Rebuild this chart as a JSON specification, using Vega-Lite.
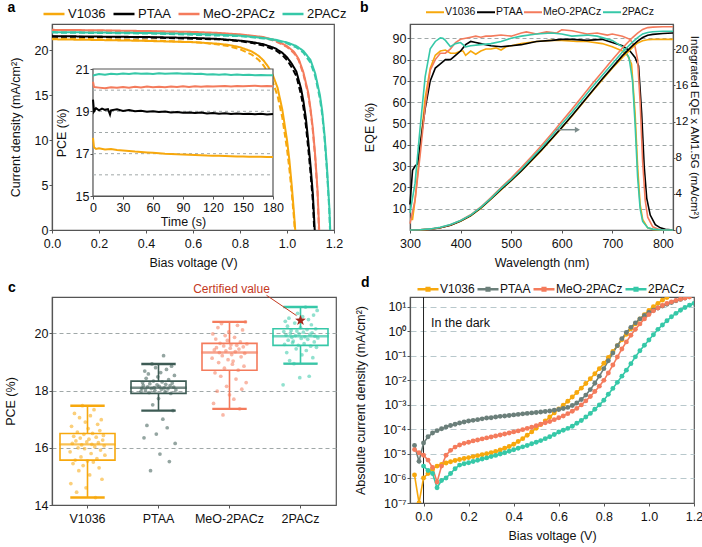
{
"$schema": "https://vega.github.io/schema/vega-lite/v6.json",
"padding": {"left": 3, "top": 0, "right": 0, "bottom": 0},
"columns": 2,
"spacing": {"row": 67, "column": 74},
"bounds": "flush",
"resolve": {"scale": {"color": "independent", "stroke": "independent"}, "legend": {"color": "independent"}},
"config": {
  "font": "Liberation Sans",
  "view": {"stroke": "#555", "strokeWidth": 1.2},
  "axis": {"labelFont": "Liberation Sans", "titleFont": "Liberation Sans", "labelFontSize": 12.5, "titleFontSize": 12.5, "labelColor": "#111", "titleColor": "#111", "titleFontWeight": "normal", "domainColor": "#555", "domainWidth": 1.2, "tickColor": "#555", "tickSize": 3, "grid": false, "gridColor": "#a0a8a8", "gridDash": [4, 3], "labelOverlap": false, "labelFlush": false},
  "axisX": {"labelPadding": 4, "titlePadding": 7},
  "axisY": {"labelPadding": 1},
  "legend": {"labelFont": "Liberation Sans", "labelColor": "#111"},
  "title": {"font": "Liberation Sans", "fontSize": 14, "fontWeight": "bold", "anchor": "start", "color": "#000", "frame": "group"}
},
"datasets": {
"jv": [
{"s":"V1036","k":"rev","v":0,"j":21.2},{"s":"V1036","k":"rev","v":0.2,"j":21.12},{"s":"V1036","k":"rev","v":0.4,"j":21.02},{"s":"V1036","k":"rev","v":0.6,"j":20.88},{"s":"V1036","k":"rev","v":0.7,"j":20.72},{"s":"V1036","k":"rev","v":0.75,"j":20.58},{"s":"V1036","k":"rev","v":0.8,"j":20.32},{"s":"V1036","k":"rev","v":0.85,"j":19.85},{"s":"V1036","k":"rev","v":0.88,"j":19.35},{"s":"V1036","k":"rev","v":0.9,"j":18.85},{"s":"V1036","k":"rev","v":0.92,"j":18.15},{"s":"V1036","k":"rev","v":0.94,"j":17.2},{"s":"V1036","k":"rev","v":0.96,"j":15.8},{"s":"V1036","k":"rev","v":0.98,"j":13.4},{"s":"V1036","k":"rev","v":1.0,"j":10.0},{"s":"V1036","k":"rev","v":1.01,"j":7.8},{"s":"V1036","k":"rev","v":1.02,"j":5.0},{"s":"V1036","k":"rev","v":1.03,"j":1.8},{"s":"V1036","k":"rev","v":1.035,"j":0},
{"s":"V1036","k":"fwd","v":0,"j":21.3},{"s":"V1036","k":"fwd","v":0.2,"j":21.2},{"s":"V1036","k":"fwd","v":0.4,"j":21.08},{"s":"V1036","k":"fwd","v":0.6,"j":20.9},{"s":"V1036","k":"fwd","v":0.7,"j":20.65},{"s":"V1036","k":"fwd","v":0.75,"j":20.45},{"s":"V1036","k":"fwd","v":0.8,"j":20.1},{"s":"V1036","k":"fwd","v":0.85,"j":19.5},{"s":"V1036","k":"fwd","v":0.88,"j":18.9},{"s":"V1036","k":"fwd","v":0.9,"j":18.3},{"s":"V1036","k":"fwd","v":0.92,"j":17.5},{"s":"V1036","k":"fwd","v":0.94,"j":16.4},{"s":"V1036","k":"fwd","v":0.96,"j":14.9},{"s":"V1036","k":"fwd","v":0.98,"j":12.5},{"s":"V1036","k":"fwd","v":1.0,"j":9.0},{"s":"V1036","k":"fwd","v":1.01,"j":6.8},{"s":"V1036","k":"fwd","v":1.02,"j":4.2},{"s":"V1036","k":"fwd","v":1.03,"j":1.2},{"s":"V1036","k":"fwd","v":1.033,"j":0},
{"s":"PTAA","k":"rev","v":0,"j":21.55},{"s":"PTAA","k":"rev","v":0.2,"j":21.5},{"s":"PTAA","k":"rev","v":0.4,"j":21.45},{"s":"PTAA","k":"rev","v":0.6,"j":21.35},{"s":"PTAA","k":"rev","v":0.7,"j":21.25},{"s":"PTAA","k":"rev","v":0.8,"j":21.05},{"s":"PTAA","k":"rev","v":0.85,"j":20.9},{"s":"PTAA","k":"rev","v":0.9,"j":20.65},{"s":"PTAA","k":"rev","v":0.95,"j":20.2},{"s":"PTAA","k":"rev","v":0.98,"j":19.7},{"s":"PTAA","k":"rev","v":1.0,"j":19.2},{"s":"PTAA","k":"rev","v":1.02,"j":18.5},{"s":"PTAA","k":"rev","v":1.04,"j":17.6},{"s":"PTAA","k":"rev","v":1.06,"j":15.7},{"s":"PTAA","k":"rev","v":1.07,"j":14.3},{"s":"PTAA","k":"rev","v":1.08,"j":12.5},{"s":"PTAA","k":"rev","v":1.09,"j":10.0},{"s":"PTAA","k":"rev","v":1.1,"j":7.2},{"s":"PTAA","k":"rev","v":1.11,"j":4.0},{"s":"PTAA","k":"rev","v":1.118,"j":0},
{"s":"PTAA","k":"fwd","v":0,"j":21.5},{"s":"PTAA","k":"fwd","v":0.4,"j":21.4},{"s":"PTAA","k":"fwd","v":0.7,"j":21.2},{"s":"PTAA","k":"fwd","v":0.8,"j":21.0},{"s":"PTAA","k":"fwd","v":0.85,"j":20.8},{"s":"PTAA","k":"fwd","v":0.9,"j":20.5},{"s":"PTAA","k":"fwd","v":0.95,"j":20.0},{"s":"PTAA","k":"fwd","v":0.98,"j":19.45},{"s":"PTAA","k":"fwd","v":1.0,"j":18.9},{"s":"PTAA","k":"fwd","v":1.02,"j":18.1},{"s":"PTAA","k":"fwd","v":1.04,"j":17.1},{"s":"PTAA","k":"fwd","v":1.06,"j":15.0},{"s":"PTAA","k":"fwd","v":1.07,"j":13.6},{"s":"PTAA","k":"fwd","v":1.08,"j":11.7},{"s":"PTAA","k":"fwd","v":1.09,"j":9.2},{"s":"PTAA","k":"fwd","v":1.1,"j":6.4},{"s":"PTAA","k":"fwd","v":1.11,"j":3.2},{"s":"PTAA","k":"fwd","v":1.116,"j":0},
{"s":"MeO-2PACz","k":"rev","v":0,"j":22.25},{"s":"MeO-2PACz","k":"rev","v":0.2,"j":22.2},{"s":"MeO-2PACz","k":"rev","v":0.4,"j":22.12},{"s":"MeO-2PACz","k":"rev","v":0.6,"j":22.02},{"s":"MeO-2PACz","k":"rev","v":0.7,"j":21.92},{"s":"MeO-2PACz","k":"rev","v":0.8,"j":21.75},{"s":"MeO-2PACz","k":"rev","v":0.9,"j":21.45},{"s":"MeO-2PACz","k":"rev","v":0.95,"j":21.1},{"s":"MeO-2PACz","k":"rev","v":1.0,"j":20.45},{"s":"MeO-2PACz","k":"rev","v":1.03,"j":19.8},{"s":"MeO-2PACz","k":"rev","v":1.05,"j":19.0},{"s":"MeO-2PACz","k":"rev","v":1.07,"j":17.5},{"s":"MeO-2PACz","k":"rev","v":1.09,"j":15.3},{"s":"MeO-2PACz","k":"rev","v":1.1,"j":13.5},{"s":"MeO-2PACz","k":"rev","v":1.11,"j":11.3},{"s":"MeO-2PACz","k":"rev","v":1.12,"j":8.3},{"s":"MeO-2PACz","k":"rev","v":1.13,"j":4.4},{"s":"MeO-2PACz","k":"rev","v":1.137,"j":0},
{"s":"MeO-2PACz","k":"fwd","v":0,"j":22.2},{"s":"MeO-2PACz","k":"fwd","v":0.4,"j":22.1},{"s":"MeO-2PACz","k":"fwd","v":0.8,"j":21.7},{"s":"MeO-2PACz","k":"fwd","v":0.9,"j":21.4},{"s":"MeO-2PACz","k":"fwd","v":0.95,"j":21.0},{"s":"MeO-2PACz","k":"fwd","v":1.0,"j":20.35},{"s":"MeO-2PACz","k":"fwd","v":1.03,"j":19.65},{"s":"MeO-2PACz","k":"fwd","v":1.05,"j":18.85},{"s":"MeO-2PACz","k":"fwd","v":1.07,"j":17.3},{"s":"MeO-2PACz","k":"fwd","v":1.09,"j":15.1},{"s":"MeO-2PACz","k":"fwd","v":1.1,"j":13.3},{"s":"MeO-2PACz","k":"fwd","v":1.11,"j":11.0},{"s":"MeO-2PACz","k":"fwd","v":1.12,"j":8.0},{"s":"MeO-2PACz","k":"fwd","v":1.13,"j":4.1},{"s":"MeO-2PACz","k":"fwd","v":1.136,"j":0},
{"s":"2PACz","k":"rev","v":0,"j":22.0},{"s":"2PACz","k":"rev","v":0.2,"j":21.95},{"s":"2PACz","k":"rev","v":0.4,"j":21.9},{"s":"2PACz","k":"rev","v":0.6,"j":21.8},{"s":"2PACz","k":"rev","v":0.7,"j":21.72},{"s":"2PACz","k":"rev","v":0.8,"j":21.6},{"s":"2PACz","k":"rev","v":0.9,"j":21.35},{"s":"2PACz","k":"rev","v":0.95,"j":21.15},{"s":"2PACz","k":"rev","v":1.0,"j":20.85},{"s":"2PACz","k":"rev","v":1.04,"j":20.45},{"s":"2PACz","k":"rev","v":1.07,"j":19.9},{"s":"2PACz","k":"rev","v":1.1,"j":18.9},{"s":"2PACz","k":"rev","v":1.12,"j":17.4},{"s":"2PACz","k":"rev","v":1.14,"j":15.0},{"s":"2PACz","k":"rev","v":1.15,"j":13.2},{"s":"2PACz","k":"rev","v":1.16,"j":10.5},{"s":"2PACz","k":"rev","v":1.17,"j":7.0},{"s":"2PACz","k":"rev","v":1.18,"j":2.6},{"s":"2PACz","k":"rev","v":1.184,"j":0},
{"s":"2PACz","k":"fwd","v":0,"j":21.95},{"s":"2PACz","k":"fwd","v":0.4,"j":21.85},{"s":"2PACz","k":"fwd","v":0.8,"j":21.55},{"s":"2PACz","k":"fwd","v":0.9,"j":21.3},{"s":"2PACz","k":"fwd","v":0.95,"j":21.1},{"s":"2PACz","k":"fwd","v":1.0,"j":20.75},{"s":"2PACz","k":"fwd","v":1.04,"j":20.3},{"s":"2PACz","k":"fwd","v":1.07,"j":19.7},{"s":"2PACz","k":"fwd","v":1.1,"j":18.6},{"s":"2PACz","k":"fwd","v":1.12,"j":17.1},{"s":"2PACz","k":"fwd","v":1.14,"j":14.6},{"s":"2PACz","k":"fwd","v":1.15,"j":12.8},{"s":"2PACz","k":"fwd","v":1.16,"j":10.1},{"s":"2PACz","k":"fwd","v":1.17,"j":6.6},{"s":"2PACz","k":"fwd","v":1.18,"j":2.2},{"s":"2PACz","k":"fwd","v":1.183,"j":0}
],
"pt": [
{"s":"2PACz","t":0,"p":20.68},{"s":"2PACz","t":2,"p":20.72},{"s":"2PACz","t":6,"p":20.76},{"s":"2PACz","t":12,"p":20.73},{"s":"2PACz","t":18,"p":20.78},{"s":"2PACz","t":24,"p":20.75},{"s":"2PACz","t":30,"p":20.79},{"s":"2PACz","t":36,"p":20.76},{"s":"2PACz","t":42,"p":20.8},{"s":"2PACz","t":48,"p":20.77},{"s":"2PACz","t":54,"p":20.79},{"s":"2PACz","t":60,"p":20.76},{"s":"2PACz","t":66,"p":20.8},{"s":"2PACz","t":72,"p":20.77},{"s":"2PACz","t":78,"p":20.79},{"s":"2PACz","t":84,"p":20.8},{"s":"2PACz","t":90,"p":20.77},{"s":"2PACz","t":96,"p":20.79},{"s":"2PACz","t":102,"p":20.76},{"s":"2PACz","t":108,"p":20.78},{"s":"2PACz","t":114,"p":20.74},{"s":"2PACz","t":120,"p":20.75},{"s":"2PACz","t":126,"p":20.73},{"s":"2PACz","t":132,"p":20.75},{"s":"2PACz","t":138,"p":20.72},{"s":"2PACz","t":144,"p":20.74},{"s":"2PACz","t":150,"p":20.72},{"s":"2PACz","t":156,"p":20.73},{"s":"2PACz","t":162,"p":20.7},{"s":"2PACz","t":168,"p":20.72},{"s":"2PACz","t":174,"p":20.7},{"s":"2PACz","t":180,"p":20.71},
{"s":"MeO-2PACz","t":0,"p":20.4},{"s":"MeO-2PACz","t":1,"p":20.15},{"s":"MeO-2PACz","t":6,"p":20.12},{"s":"MeO-2PACz","t":12,"p":20.09},{"s":"MeO-2PACz","t":18,"p":20.14},{"s":"MeO-2PACz","t":24,"p":20.11},{"s":"MeO-2PACz","t":30,"p":20.15},{"s":"MeO-2PACz","t":36,"p":20.12},{"s":"MeO-2PACz","t":42,"p":20.16},{"s":"MeO-2PACz","t":48,"p":20.13},{"s":"MeO-2PACz","t":54,"p":20.17},{"s":"MeO-2PACz","t":60,"p":20.14},{"s":"MeO-2PACz","t":66,"p":20.16},{"s":"MeO-2PACz","t":72,"p":20.14},{"s":"MeO-2PACz","t":78,"p":20.17},{"s":"MeO-2PACz","t":84,"p":20.15},{"s":"MeO-2PACz","t":90,"p":20.18},{"s":"MeO-2PACz","t":96,"p":20.15},{"s":"MeO-2PACz","t":102,"p":20.18},{"s":"MeO-2PACz","t":108,"p":20.16},{"s":"MeO-2PACz","t":114,"p":20.19},{"s":"MeO-2PACz","t":120,"p":20.17},{"s":"MeO-2PACz","t":126,"p":20.19},{"s":"MeO-2PACz","t":132,"p":20.2},{"s":"MeO-2PACz","t":138,"p":20.17},{"s":"MeO-2PACz","t":144,"p":20.2},{"s":"MeO-2PACz","t":150,"p":20.18},{"s":"MeO-2PACz","t":156,"p":20.2},{"s":"MeO-2PACz","t":162,"p":20.21},{"s":"MeO-2PACz","t":168,"p":20.18},{"s":"MeO-2PACz","t":174,"p":20.2},{"s":"MeO-2PACz","t":180,"p":20.19},
{"s":"PTAA","t":0,"p":19.55},{"s":"PTAA","t":1,"p":19.0},{"s":"PTAA","t":3,"p":19.15},{"s":"PTAA","t":6,"p":19.05},{"s":"PTAA","t":9,"p":19.13},{"s":"PTAA","t":12,"p":19.07},{"s":"PTAA","t":15,"p":19.1},{"s":"PTAA","t":17,"p":18.85},{"s":"PTAA","t":18,"p":19.05},{"s":"PTAA","t":24,"p":19.1},{"s":"PTAA","t":30,"p":19.02},{"s":"PTAA","t":36,"p":19.06},{"s":"PTAA","t":42,"p":19.0},{"s":"PTAA","t":48,"p":19.03},{"s":"PTAA","t":54,"p":18.98},{"s":"PTAA","t":60,"p":19.0},{"s":"PTAA","t":66,"p":18.97},{"s":"PTAA","t":72,"p":18.99},{"s":"PTAA","t":78,"p":18.95},{"s":"PTAA","t":84,"p":18.97},{"s":"PTAA","t":90,"p":18.93},{"s":"PTAA","t":96,"p":18.95},{"s":"PTAA","t":102,"p":18.92},{"s":"PTAA","t":108,"p":18.94},{"s":"PTAA","t":114,"p":18.9},{"s":"PTAA","t":120,"p":18.92},{"s":"PTAA","t":126,"p":18.89},{"s":"PTAA","t":132,"p":18.91},{"s":"PTAA","t":138,"p":18.88},{"s":"PTAA","t":144,"p":18.9},{"s":"PTAA","t":150,"p":18.87},{"s":"PTAA","t":156,"p":18.89},{"s":"PTAA","t":162,"p":18.86},{"s":"PTAA","t":168,"p":18.88},{"s":"PTAA","t":174,"p":18.85},{"s":"PTAA","t":180,"p":18.87},
{"s":"V1036","t":0,"p":17.75},{"s":"V1036","t":1,"p":17.3},{"s":"V1036","t":3,"p":17.22},{"s":"V1036","t":6,"p":17.26},{"s":"V1036","t":12,"p":17.2},{"s":"V1036","t":18,"p":17.22},{"s":"V1036","t":24,"p":17.17},{"s":"V1036","t":30,"p":17.15},{"s":"V1036","t":36,"p":17.13},{"s":"V1036","t":42,"p":17.1},{"s":"V1036","t":48,"p":17.08},{"s":"V1036","t":54,"p":17.06},{"s":"V1036","t":60,"p":17.04},{"s":"V1036","t":66,"p":17.02},{"s":"V1036","t":72,"p":17.0},{"s":"V1036","t":78,"p":16.99},{"s":"V1036","t":84,"p":16.97},{"s":"V1036","t":90,"p":16.96},{"s":"V1036","t":96,"p":16.95},{"s":"V1036","t":102,"p":16.94},{"s":"V1036","t":108,"p":16.93},{"s":"V1036","t":114,"p":16.91},{"s":"V1036","t":120,"p":16.9},{"s":"V1036","t":126,"p":16.9},{"s":"V1036","t":132,"p":16.89},{"s":"V1036","t":138,"p":16.88},{"s":"V1036","t":144,"p":16.87},{"s":"V1036","t":150,"p":16.87},{"s":"V1036","t":156,"p":16.86},{"s":"V1036","t":162,"p":16.85},{"s":"V1036","t":168,"p":16.85},{"s":"V1036","t":174,"p":16.84},{"s":"V1036","t":180,"p":16.84}
],
"eqe": [
{"s":"V1036","nm":300,"e":5},{"s":"V1036","nm":305,"e":5},{"s":"V1036","nm":310,"e":14},{"s":"V1036","nm":320,"e":38},{"s":"V1036","nm":330,"e":62},{"s":"V1036","nm":340,"e":76},{"s":"V1036","nm":350,"e":82},{"s":"V1036","nm":360,"e":84},{"s":"V1036","nm":370,"e":84.5},{"s":"V1036","nm":380,"e":83},{"s":"V1036","nm":390,"e":83},{"s":"V1036","nm":400,"e":84},{"s":"V1036","nm":405,"e":84},{"s":"V1036","nm":410,"e":82},{"s":"V1036","nm":420,"e":84},{"s":"V1036","nm":430,"e":82.5},{"s":"V1036","nm":440,"e":84},{"s":"V1036","nm":450,"e":85},{"s":"V1036","nm":460,"e":85},{"s":"V1036","nm":470,"e":85.5},{"s":"V1036","nm":480,"e":84.5},{"s":"V1036","nm":490,"e":86},{"s":"V1036","nm":500,"e":86.5},{"s":"V1036","nm":520,"e":87.5},{"s":"V1036","nm":550,"e":88.5},{"s":"V1036","nm":580,"e":89},{"s":"V1036","nm":600,"e":89},{"s":"V1036","nm":630,"e":88.5},{"s":"V1036","nm":650,"e":88.5},{"s":"V1036","nm":680,"e":87.5},{"s":"V1036","nm":700,"e":86},{"s":"V1036","nm":720,"e":84},{"s":"V1036","nm":730,"e":82},{"s":"V1036","nm":738,"e":78},{"s":"V1036","nm":745,"e":55},{"s":"V1036","nm":750,"e":30},{"s":"V1036","nm":755,"e":12},{"s":"V1036","nm":760,"e":5},{"s":"V1036","nm":770,"e":1},{"s":"V1036","nm":780,"e":0.3},{"s":"V1036","nm":800,"e":0},{"s":"V1036","nm":820,"e":0},
{"s":"PTAA","nm":300,"e":12},{"s":"PTAA","nm":305,"e":28},{"s":"PTAA","nm":310,"e":30},{"s":"PTAA","nm":315,"e":31},{"s":"PTAA","nm":320,"e":40},{"s":"PTAA","nm":330,"e":57},{"s":"PTAA","nm":340,"e":70},{"s":"PTAA","nm":350,"e":76},{"s":"PTAA","nm":360,"e":78},{"s":"PTAA","nm":370,"e":80},{"s":"PTAA","nm":380,"e":80},{"s":"PTAA","nm":390,"e":82},{"s":"PTAA","nm":400,"e":84},{"s":"PTAA","nm":410,"e":87},{"s":"PTAA","nm":420,"e":88.5},{"s":"PTAA","nm":430,"e":88},{"s":"PTAA","nm":440,"e":87.5},{"s":"PTAA","nm":450,"e":87},{"s":"PTAA","nm":460,"e":86.5},{"s":"PTAA","nm":480,"e":86},{"s":"PTAA","nm":500,"e":86.5},{"s":"PTAA","nm":520,"e":87},{"s":"PTAA","nm":550,"e":88.5},{"s":"PTAA","nm":580,"e":89},{"s":"PTAA","nm":600,"e":89.5},{"s":"PTAA","nm":620,"e":89.5},{"s":"PTAA","nm":650,"e":89},{"s":"PTAA","nm":680,"e":89.5},{"s":"PTAA","nm":700,"e":88},{"s":"PTAA","nm":720,"e":86.5},{"s":"PTAA","nm":735,"e":84},{"s":"PTAA","nm":745,"e":81},{"s":"PTAA","nm":752,"e":77},{"s":"PTAA","nm":758,"e":55},{"s":"PTAA","nm":763,"e":30},{"s":"PTAA","nm":768,"e":15},{"s":"PTAA","nm":775,"e":7},{"s":"PTAA","nm":785,"e":2.5},{"s":"PTAA","nm":795,"e":1},{"s":"PTAA","nm":805,"e":0.3},{"s":"PTAA","nm":820,"e":0},
{"s":"MeO-2PACz","nm":300,"e":3},{"s":"MeO-2PACz","nm":310,"e":14},{"s":"MeO-2PACz","nm":320,"e":35},{"s":"MeO-2PACz","nm":330,"e":58},{"s":"MeO-2PACz","nm":340,"e":75},{"s":"MeO-2PACz","nm":350,"e":80},{"s":"MeO-2PACz","nm":360,"e":83},{"s":"MeO-2PACz","nm":370,"e":83},{"s":"MeO-2PACz","nm":380,"e":85},{"s":"MeO-2PACz","nm":390,"e":88},{"s":"MeO-2PACz","nm":400,"e":89.5},{"s":"MeO-2PACz","nm":410,"e":90},{"s":"MeO-2PACz","nm":420,"e":90.5},{"s":"MeO-2PACz","nm":430,"e":91},{"s":"MeO-2PACz","nm":440,"e":90.5},{"s":"MeO-2PACz","nm":450,"e":91},{"s":"MeO-2PACz","nm":460,"e":91},{"s":"MeO-2PACz","nm":480,"e":91.5},{"s":"MeO-2PACz","nm":500,"e":91},{"s":"MeO-2PACz","nm":520,"e":92.5},{"s":"MeO-2PACz","nm":530,"e":93},{"s":"MeO-2PACz","nm":550,"e":92},{"s":"MeO-2PACz","nm":570,"e":93},{"s":"MeO-2PACz","nm":590,"e":92.5},{"s":"MeO-2PACz","nm":600,"e":94},{"s":"MeO-2PACz","nm":620,"e":93.5},{"s":"MeO-2PACz","nm":650,"e":92},{"s":"MeO-2PACz","nm":670,"e":92.5},{"s":"MeO-2PACz","nm":690,"e":91.5},{"s":"MeO-2PACz","nm":700,"e":92},{"s":"MeO-2PACz","nm":720,"e":91},{"s":"MeO-2PACz","nm":735,"e":89.5},{"s":"MeO-2PACz","nm":745,"e":86},{"s":"MeO-2PACz","nm":750,"e":80},{"s":"MeO-2PACz","nm":755,"e":60},{"s":"MeO-2PACz","nm":760,"e":32},{"s":"MeO-2PACz","nm":765,"e":14},{"s":"MeO-2PACz","nm":770,"e":6},{"s":"MeO-2PACz","nm":780,"e":1.5},{"s":"MeO-2PACz","nm":790,"e":0.5},{"s":"MeO-2PACz","nm":800,"e":0},{"s":"MeO-2PACz","nm":820,"e":0},
{"s":"2PACz","nm":300,"e":8},{"s":"2PACz","nm":310,"e":22},{"s":"2PACz","nm":320,"e":48},{"s":"2PACz","nm":330,"e":72},{"s":"2PACz","nm":340,"e":85},{"s":"2PACz","nm":350,"e":88.5},{"s":"2PACz","nm":360,"e":90.2},{"s":"2PACz","nm":365,"e":90},{"s":"2PACz","nm":370,"e":89},{"s":"2PACz","nm":380,"e":86},{"s":"2PACz","nm":390,"e":87.5},{"s":"2PACz","nm":400,"e":88},{"s":"2PACz","nm":410,"e":86},{"s":"2PACz","nm":420,"e":86.5},{"s":"2PACz","nm":440,"e":87},{"s":"2PACz","nm":460,"e":87.5},{"s":"2PACz","nm":480,"e":88.5},{"s":"2PACz","nm":500,"e":90},{"s":"2PACz","nm":520,"e":91},{"s":"2PACz","nm":550,"e":92},{"s":"2PACz","nm":580,"e":92.5},{"s":"2PACz","nm":600,"e":92},{"s":"2PACz","nm":620,"e":91},{"s":"2PACz","nm":650,"e":91.5},{"s":"2PACz","nm":670,"e":91},{"s":"2PACz","nm":700,"e":89},{"s":"2PACz","nm":720,"e":86},{"s":"2PACz","nm":733,"e":81},{"s":"2PACz","nm":740,"e":70},{"s":"2PACz","nm":745,"e":50},{"s":"2PACz","nm":750,"e":25},{"s":"2PACz","nm":755,"e":10},{"s":"2PACz","nm":760,"e":4},{"s":"2PACz","nm":770,"e":1},{"s":"2PACz","nm":780,"e":0.4},{"s":"2PACz","nm":800,"e":0},{"s":"2PACz","nm":820,"e":0}
],
"jint": [
{"s":"V1036","nm":300,"j":0},{"s":"V1036","nm":320,"j":0.01},{"s":"V1036","nm":340,"j":0.08},{"s":"V1036","nm":360,"j":0.24},{"s":"V1036","nm":380,"j":0.52},{"s":"V1036","nm":400,"j":0.97},{"s":"V1036","nm":420,"j":1.58},{"s":"V1036","nm":440,"j":2.4},{"s":"V1036","nm":460,"j":3.4},{"s":"V1036","nm":480,"j":4.45},{"s":"V1036","nm":500,"j":5.45},{"s":"V1036","nm":520,"j":6.5},{"s":"V1036","nm":540,"j":7.65},{"s":"V1036","nm":560,"j":8.8},{"s":"V1036","nm":580,"j":10.05},{"s":"V1036","nm":600,"j":11.3},{"s":"V1036","nm":620,"j":12.6},{"s":"V1036","nm":640,"j":13.95},{"s":"V1036","nm":660,"j":15.3},{"s":"V1036","nm":680,"j":16.6},{"s":"V1036","nm":700,"j":17.9},{"s":"V1036","nm":720,"j":19.1},{"s":"V1036","nm":740,"j":20.2},{"s":"V1036","nm":750,"j":20.7},{"s":"V1036","nm":760,"j":20.95},{"s":"V1036","nm":770,"j":21.05},{"s":"V1036","nm":780,"j":21.1},{"s":"V1036","nm":800,"j":21.1},{"s":"V1036","nm":820,"j":21.1},
{"s":"PTAA","nm":300,"j":0},{"s":"PTAA","nm":320,"j":0.03},{"s":"PTAA","nm":340,"j":0.09},{"s":"PTAA","nm":360,"j":0.24},{"s":"PTAA","nm":380,"j":0.52},{"s":"PTAA","nm":400,"j":0.98},{"s":"PTAA","nm":420,"j":1.6},{"s":"PTAA","nm":440,"j":2.45},{"s":"PTAA","nm":460,"j":3.45},{"s":"PTAA","nm":480,"j":4.5},{"s":"PTAA","nm":500,"j":5.5},{"s":"PTAA","nm":520,"j":6.55},{"s":"PTAA","nm":540,"j":7.7},{"s":"PTAA","nm":560,"j":8.85},{"s":"PTAA","nm":580,"j":10.1},{"s":"PTAA","nm":600,"j":11.35},{"s":"PTAA","nm":620,"j":12.65},{"s":"PTAA","nm":640,"j":14.0},{"s":"PTAA","nm":660,"j":15.35},{"s":"PTAA","nm":680,"j":16.7},{"s":"PTAA","nm":700,"j":18.0},{"s":"PTAA","nm":720,"j":19.3},{"s":"PTAA","nm":740,"j":20.4},{"s":"PTAA","nm":750,"j":20.9},{"s":"PTAA","nm":760,"j":21.3},{"s":"PTAA","nm":770,"j":21.55},{"s":"PTAA","nm":780,"j":21.65},{"s":"PTAA","nm":800,"j":21.75},{"s":"PTAA","nm":820,"j":21.8},
{"s":"MeO-2PACz","nm":300,"j":0},{"s":"MeO-2PACz","nm":320,"j":0.02},{"s":"MeO-2PACz","nm":340,"j":0.1},{"s":"MeO-2PACz","nm":360,"j":0.28},{"s":"MeO-2PACz","nm":380,"j":0.58},{"s":"MeO-2PACz","nm":400,"j":1.05},{"s":"MeO-2PACz","nm":420,"j":1.68},{"s":"MeO-2PACz","nm":440,"j":2.55},{"s":"MeO-2PACz","nm":460,"j":3.6},{"s":"MeO-2PACz","nm":480,"j":4.7},{"s":"MeO-2PACz","nm":500,"j":5.75},{"s":"MeO-2PACz","nm":520,"j":6.9},{"s":"MeO-2PACz","nm":540,"j":8.1},{"s":"MeO-2PACz","nm":560,"j":9.35},{"s":"MeO-2PACz","nm":580,"j":10.65},{"s":"MeO-2PACz","nm":600,"j":12.0},{"s":"MeO-2PACz","nm":620,"j":13.35},{"s":"MeO-2PACz","nm":640,"j":14.75},{"s":"MeO-2PACz","nm":660,"j":16.15},{"s":"MeO-2PACz","nm":680,"j":17.5},{"s":"MeO-2PACz","nm":700,"j":18.85},{"s":"MeO-2PACz","nm":720,"j":20.15},{"s":"MeO-2PACz","nm":740,"j":21.3},{"s":"MeO-2PACz","nm":750,"j":21.8},{"s":"MeO-2PACz","nm":760,"j":22.2},{"s":"MeO-2PACz","nm":770,"j":22.4},{"s":"MeO-2PACz","nm":780,"j":22.45},{"s":"MeO-2PACz","nm":800,"j":22.5},{"s":"MeO-2PACz","nm":820,"j":22.5},
{"s":"2PACz","nm":300,"j":0},{"s":"2PACz","nm":320,"j":0.03},{"s":"2PACz","nm":340,"j":0.12},{"s":"2PACz","nm":360,"j":0.3},{"s":"2PACz","nm":380,"j":0.6},{"s":"2PACz","nm":400,"j":1.05},{"s":"2PACz","nm":420,"j":1.65},{"s":"2PACz","nm":440,"j":2.5},{"s":"2PACz","nm":460,"j":3.5},{"s":"2PACz","nm":480,"j":4.6},{"s":"2PACz","nm":500,"j":5.6},{"s":"2PACz","nm":520,"j":6.7},{"s":"2PACz","nm":540,"j":7.9},{"s":"2PACz","nm":560,"j":9.1},{"s":"2PACz","nm":580,"j":10.4},{"s":"2PACz","nm":600,"j":11.7},{"s":"2PACz","nm":620,"j":13.0},{"s":"2PACz","nm":640,"j":14.4},{"s":"2PACz","nm":660,"j":15.8},{"s":"2PACz","nm":680,"j":17.1},{"s":"2PACz","nm":700,"j":18.4},{"s":"2PACz","nm":720,"j":19.7},{"s":"2PACz","nm":740,"j":20.8},{"s":"2PACz","nm":750,"j":21.3},{"s":"2PACz","nm":760,"j":21.7},{"s":"2PACz","nm":770,"j":21.85},{"s":"2PACz","nm":780,"j":21.95},{"s":"2PACz","nm":800,"j":22.0},{"s":"2PACz","nm":820,"j":22.0}
],
"pce": [
{"g":"V1036","n":1,"p":15.86},{"g":"V1036","n":2,"p":14.75},{"g":"V1036","n":3,"p":16.75},{"g":"V1036","n":4,"p":16.15},{"g":"V1036","n":5,"p":15.45},{"g":"V1036","n":6,"p":16.4},{"g":"V1036","n":7,"p":17.2},{"g":"V1036","n":8,"p":15.57},{"g":"V1036","n":9,"p":16.24},{"g":"V1036","n":10,"p":14.45},{"g":"V1036","n":11,"p":16.55},{"g":"V1036","n":12,"p":16.0},{"g":"V1036","n":13,"p":15.2},{"g":"V1036","n":14,"p":17.05},{"g":"V1036","n":15,"p":16.34},{"g":"V1036","n":16,"p":15.68},{"g":"V1036","n":17,"p":16.1},{"g":"V1036","n":18,"p":17.47},{"g":"V1036","n":19,"p":15.38},{"g":"V1036","n":20,"p":16.47},{"g":"V1036","n":21,"p":15.97},{"g":"V1036","n":22,"p":16.9},{"g":"V1036","n":23,"p":14.6},{"g":"V1036","n":24,"p":16.21},{"g":"V1036","n":25,"p":15.54},{"g":"V1036","n":26,"p":16.67},{"g":"V1036","n":27,"p":16.3},{"g":"V1036","n":28,"p":15.05},{"g":"V1036","n":29,"p":17.12},{"g":"V1036","n":30,"p":15.8},{"g":"V1036","n":31,"p":16.12},{"g":"V1036","n":32,"p":16.5},{"g":"V1036","n":33,"p":15.5},{"g":"V1036","n":34,"p":17.33},{"g":"V1036","n":35,"p":16.04},{"g":"V1036","n":36,"p":14.26},{"g":"V1036","n":37,"p":16.37},{"g":"V1036","n":38,"p":15.62},{"g":"V1036","n":39,"p":16.82},{"g":"V1036","n":40,"p":16.18},{"g":"V1036","n":41,"p":15.3},{"g":"V1036","n":42,"p":16.6},{"g":"V1036","n":43,"p":15.92},{"g":"V1036","n":44,"p":16.98},{"g":"V1036","n":45,"p":14.9},{"g":"V1036","n":46,"p":16.27},{"g":"V1036","n":47,"p":16.43},{"g":"V1036","n":48,"p":16.07},{"g":"V1036","n":49,"p":15.74},
{"g":"PTAA","n":1,"p":17.98},{"g":"PTAA","n":2,"p":18.08},{"g":"PTAA","n":3,"p":18.28},{"g":"PTAA","n":4,"p":18.18},{"g":"PTAA","n":5,"p":16.35},{"g":"PTAA","n":6,"p":18.68},{"g":"PTAA","n":7,"p":18.03},{"g":"PTAA","n":8,"p":18.43},{"g":"PTAA","n":9,"p":16.78},{"g":"PTAA","n":10,"p":18.13},{"g":"PTAA","n":11,"p":18.58},{"g":"PTAA","n":12,"p":17.93},{"g":"PTAA","n":13,"p":18.24},{"g":"PTAA","n":14,"p":15.2},{"g":"PTAA","n":15,"p":18.07},{"g":"PTAA","n":16,"p":18.93},{"g":"PTAA","n":17,"p":17.5},{"g":"PTAA","n":18,"p":18.33},{"g":"PTAA","n":19,"p":18.1},{"g":"PTAA","n":20,"p":18.0},{"g":"PTAA","n":21,"p":18.8},{"g":"PTAA","n":22,"p":16.48},{"g":"PTAA","n":23,"p":18.2},{"g":"PTAA","n":24,"p":18.48},{"g":"PTAA","n":25,"p":17.72},{"g":"PTAA","n":26,"p":18.15},{"g":"PTAA","n":27,"p":15.78},{"g":"PTAA","n":28,"p":18.63},{"g":"PTAA","n":29,"p":18.05},{"g":"PTAA","n":30,"p":18.3},{"g":"PTAA","n":31,"p":17.0},{"g":"PTAA","n":32,"p":19.22},{"g":"PTAA","n":33,"p":18.09},{"g":"PTAA","n":34,"p":17.96},{"g":"PTAA","n":35,"p":18.22},{"g":"PTAA","n":36,"p":18.74},{"g":"PTAA","n":37,"p":16.7},{"g":"PTAA","n":38,"p":18.06},{"g":"PTAA","n":39,"p":18.38},{"g":"PTAA","n":40,"p":15.52},{"g":"PTAA","n":41,"p":18.17},{"g":"PTAA","n":42,"p":17.9},{"g":"PTAA","n":43,"p":18.85},{"g":"PTAA","n":44,"p":18.26},{"g":"PTAA","n":45,"p":17.3},{"g":"PTAA","n":46,"p":18.12},{"g":"PTAA","n":47,"p":18.53},{"g":"PTAA","n":48,"p":16.15},{"g":"PTAA","n":49,"p":18.02},
{"g":"MeO-2PACz","n":1,"p":19.13},{"g":"MeO-2PACz","n":2,"p":19.98},{"g":"MeO-2PACz","n":3,"p":17.55},{"g":"MeO-2PACz","n":4,"p":19.42},{"g":"MeO-2PACz","n":5,"p":18.62},{"g":"MeO-2PACz","n":6,"p":19.8},{"g":"MeO-2PACz","n":7,"p":19.5},{"g":"MeO-2PACz","n":8,"p":17.98},{"g":"MeO-2PACz","n":9,"p":20.2},{"g":"MeO-2PACz","n":10,"p":18.98},{"g":"MeO-2PACz","n":11,"p":19.33},{"g":"MeO-2PACz","n":12,"p":19.65},{"g":"MeO-2PACz","n":13,"p":18.5},{"g":"MeO-2PACz","n":14,"p":20.34},{"g":"MeO-2PACz","n":15,"p":19.22},{"g":"MeO-2PACz","n":16,"p":17.15},{"g":"MeO-2PACz","n":17,"p":19.56},{"g":"MeO-2PACz","n":18,"p":18.78},{"g":"MeO-2PACz","n":19,"p":19.92},{"g":"MeO-2PACz","n":20,"p":19.39},{"g":"MeO-2PACz","n":21,"p":18.15},{"g":"MeO-2PACz","n":22,"p":19.75},{"g":"MeO-2PACz","n":23,"p":19.08},{"g":"MeO-2PACz","n":24,"p":20.05},{"g":"MeO-2PACz","n":25,"p":17.85},{"g":"MeO-2PACz","n":26,"p":19.48},{"g":"MeO-2PACz","n":27,"p":19.6},{"g":"MeO-2PACz","n":28,"p":19.26},{"g":"MeO-2PACz","n":29,"p":18.92},{"g":"MeO-2PACz","n":30,"p":19.03},{"g":"MeO-2PACz","n":31,"p":17.7},{"g":"MeO-2PACz","n":32,"p":19.86},{"g":"MeO-2PACz","n":33,"p":19.36},{"g":"MeO-2PACz","n":34,"p":18.4},{"g":"MeO-2PACz","n":35,"p":19.58},{"g":"MeO-2PACz","n":36,"p":20.28},{"g":"MeO-2PACz","n":37,"p":18.71},{"g":"MeO-2PACz","n":38,"p":19.45},{"g":"MeO-2PACz","n":39,"p":17.36},{"g":"MeO-2PACz","n":40,"p":19.7},{"g":"MeO-2PACz","n":41,"p":19.18},{"g":"MeO-2PACz","n":42,"p":18.05},{"g":"MeO-2PACz","n":43,"p":20.12},{"g":"MeO-2PACz","n":44,"p":19.53},{"g":"MeO-2PACz","n":45,"p":18.85},{"g":"MeO-2PACz","n":46,"p":19.3},{"g":"MeO-2PACz","n":47,"p":20.4},{"g":"MeO-2PACz","n":48,"p":18.28},{"g":"MeO-2PACz","n":49,"p":19.63},
{"g":"2PACz","n":1,"p":18.2},{"g":"2PACz","n":2,"p":20.06},{"g":"2PACz","n":3,"p":19.61},{"g":"2PACz","n":4,"p":20.42},{"g":"2PACz","n":5,"p":19.94},{"g":"2PACz","n":6,"p":19.33},{"g":"2PACz","n":7,"p":20.25},{"g":"2PACz","n":8,"p":19.76},{"g":"2PACz","n":9,"p":20.53},{"g":"2PACz","n":10,"p":19.05},{"g":"2PACz","n":11,"p":20.0},{"g":"2PACz","n":12,"p":20.1},{"g":"2PACz","n":13,"p":19.86},{"g":"2PACz","n":14,"p":19.67},{"g":"2PACz","n":15,"p":19.73},{"g":"2PACz","n":16,"p":18.94},{"g":"2PACz","n":17,"p":20.36},{"g":"2PACz","n":18,"p":19.92},{"g":"2PACz","n":19,"p":19.46},{"g":"2PACz","n":20,"p":20.08},{"g":"2PACz","n":21,"p":20.7},{"g":"2PACz","n":22,"p":19.58},{"g":"2PACz","n":23,"p":19.98},{"g":"2PACz","n":24,"p":18.45},{"g":"2PACz","n":25,"p":20.2},{"g":"2PACz","n":26,"p":19.82},{"g":"2PACz","n":27,"p":19.25},{"g":"2PACz","n":28,"p":20.58},{"g":"2PACz","n":29,"p":20.04},{"g":"2PACz","n":30,"p":19.64},{"g":"2PACz","n":31,"p":19.88},{"g":"2PACz","n":32,"p":20.92},{"g":"2PACz","n":33,"p":19.4},{"g":"2PACz","n":34,"p":20.13},{"g":"2PACz","n":35,"p":19.79},{"g":"2PACz","n":36,"p":20.48},{"g":"2PACz","n":37,"p":18.5},{"g":"2PACz","n":38,"p":19.96},{"g":"2PACz","n":39,"p":19.55},{"g":"2PACz","n":40,"p":20.3},{"g":"2PACz","n":41,"p":20.02},{"g":"2PACz","n":42,"p":19.15},{"g":"2PACz","n":43,"p":20.64},{"g":"2PACz","n":44,"p":19.7},{"g":"2PACz","n":45,"p":19.9},{"g":"2PACz","n":46,"p":20.16},{"g":"2PACz","n":47,"p":19.51},{"g":"2PACz","n":48,"p":20.8},{"g":"2PACz","n":49,"p":19.84}
],
"dark": [
{"s":"V1036","v":-0.04,"j":1.4e-6},{"s":"V1036","v":-0.02,"j":1.0e-7},{"s":"V1036","v":0,"j":1.05e-6},{"s":"V1036","v":0.02,"j":1.6e-6},{"s":"V1036","v":0.04,"j":2.4e-6},{"s":"V1036","v":0.06,"j":3.2e-6},{"s":"V1036","v":0.08,"j":3.7e-6},{"s":"V1036","v":0.1,"j":4.3e-6},{"s":"V1036","v":0.12,"j":4.8e-6},{"s":"V1036","v":0.14,"j":5.4e-6},{"s":"V1036","v":0.16,"j":5.9e-6},{"s":"V1036","v":0.18,"j":6.5e-6},{"s":"V1036","v":0.2,"j":7.1e-6},{"s":"V1036","v":0.22,"j":7.8e-6},{"s":"V1036","v":0.24,"j":8.5e-6},{"s":"V1036","v":0.26,"j":9.3e-6},{"s":"V1036","v":0.28,"j":1.02e-5},{"s":"V1036","v":0.3,"j":1.12e-5},{"s":"V1036","v":0.32,"j":1.26e-5},{"s":"V1036","v":0.34,"j":1.45e-5},{"s":"V1036","v":0.36,"j":1.7e-5},{"s":"V1036","v":0.38,"j":2.0e-5},{"s":"V1036","v":0.4,"j":2.5e-5},{"s":"V1036","v":0.42,"j":3.2e-5},{"s":"V1036","v":0.44,"j":4.2e-5},{"s":"V1036","v":0.46,"j":5.8e-5},{"s":"V1036","v":0.48,"j":7.9e-5},{"s":"V1036","v":0.5,"j":1.12e-4},{"s":"V1036","v":0.52,"j":1.58e-4},{"s":"V1036","v":0.54,"j":2.2e-4},{"s":"V1036","v":0.56,"j":3.2e-4},{"s":"V1036","v":0.58,"j":4.7e-4},{"s":"V1036","v":0.6,"j":6.8e-4},{"s":"V1036","v":0.62,"j":9.8e-4},{"s":"V1036","v":0.64,"j":1.4e-3},{"s":"V1036","v":0.66,"j":2.1e-3},{"s":"V1036","v":0.68,"j":3.2e-3},{"s":"V1036","v":0.7,"j":4.8e-3},{"s":"V1036","v":0.72,"j":7.4e-3},{"s":"V1036","v":0.74,"j":1.17e-2},{"s":"V1036","v":0.76,"j":1.86e-2},{"s":"V1036","v":0.78,"j":3.0e-2},{"s":"V1036","v":0.8,"j":5.0e-2},{"s":"V1036","v":0.82,"j":8.5e-2},{"s":"V1036","v":0.84,"j":0.15},{"s":"V1036","v":0.86,"j":0.26},{"s":"V1036","v":0.88,"j":0.45},{"s":"V1036","v":0.9,"j":0.76},{"s":"V1036","v":0.92,"j":1.26},{"s":"V1036","v":0.94,"j":2.0},{"s":"V1036","v":0.96,"j":3.2},{"s":"V1036","v":0.98,"j":4.8},{"s":"V1036","v":1.0,"j":7.1},{"s":"V1036","v":1.02,"j":10},{"s":"V1036","v":1.04,"j":13.8},{"s":"V1036","v":1.06,"j":18.6},{"s":"V1036","v":1.08,"j":24},
{"s":"PTAA","v":-0.04,"j":2.2e-5},{"s":"PTAA","v":-0.02,"j":5.0e-6},{"s":"PTAA","v":0,"j":2.8e-5},{"s":"PTAA","v":0.02,"j":5.0e-5},{"s":"PTAA","v":0.04,"j":7.1e-5},{"s":"PTAA","v":0.06,"j":8.9e-5},{"s":"PTAA","v":0.08,"j":1.07e-4},{"s":"PTAA","v":0.1,"j":1.26e-4},{"s":"PTAA","v":0.12,"j":1.45e-4},{"s":"PTAA","v":0.14,"j":1.62e-4},{"s":"PTAA","v":0.16,"j":1.82e-4},{"s":"PTAA","v":0.18,"j":2.0e-4},{"s":"PTAA","v":0.2,"j":2.19e-4},{"s":"PTAA","v":0.22,"j":2.34e-4},{"s":"PTAA","v":0.24,"j":2.5e-4},{"s":"PTAA","v":0.26,"j":2.7e-4},{"s":"PTAA","v":0.28,"j":2.9e-4},{"s":"PTAA","v":0.3,"j":3.0e-4},{"s":"PTAA","v":0.32,"j":3.2e-4},{"s":"PTAA","v":0.34,"j":3.4e-4},{"s":"PTAA","v":0.36,"j":3.5e-4},{"s":"PTAA","v":0.38,"j":3.7e-4},{"s":"PTAA","v":0.4,"j":3.9e-4},{"s":"PTAA","v":0.42,"j":4.1e-4},{"s":"PTAA","v":0.44,"j":4.3e-4},{"s":"PTAA","v":0.46,"j":4.5e-4},{"s":"PTAA","v":0.48,"j":4.7e-4},{"s":"PTAA","v":0.5,"j":4.9e-4},{"s":"PTAA","v":0.52,"j":5.1e-4},{"s":"PTAA","v":0.54,"j":5.4e-4},{"s":"PTAA","v":0.56,"j":5.6e-4},{"s":"PTAA","v":0.58,"j":6.0e-4},{"s":"PTAA","v":0.6,"j":6.5e-4},{"s":"PTAA","v":0.62,"j":7.1e-4},{"s":"PTAA","v":0.64,"j":7.9e-4},{"s":"PTAA","v":0.66,"j":9.5e-4},{"s":"PTAA","v":0.68,"j":1.2e-3},{"s":"PTAA","v":0.7,"j":1.66e-3},{"s":"PTAA","v":0.72,"j":2.5e-3},{"s":"PTAA","v":0.74,"j":4.2e-3},{"s":"PTAA","v":0.76,"j":7.6e-3},{"s":"PTAA","v":0.78,"j":1.48e-2},{"s":"PTAA","v":0.8,"j":3.0e-2},{"s":"PTAA","v":0.82,"j":6.3e-2},{"s":"PTAA","v":0.84,"j":0.13},{"s":"PTAA","v":0.86,"j":0.26},{"s":"PTAA","v":0.88,"j":0.5},{"s":"PTAA","v":0.9,"j":0.89},{"s":"PTAA","v":0.92,"j":1.45},{"s":"PTAA","v":0.94,"j":2.2},{"s":"PTAA","v":0.96,"j":3.2},{"s":"PTAA","v":0.98,"j":4.4},{"s":"PTAA","v":1.0,"j":5.8},{"s":"PTAA","v":1.02,"j":7.2},{"s":"PTAA","v":1.04,"j":8.9},{"s":"PTAA","v":1.06,"j":10.7},{"s":"PTAA","v":1.08,"j":12.6},{"s":"PTAA","v":1.1,"j":14.8},{"s":"PTAA","v":1.12,"j":17.4},{"s":"PTAA","v":1.14,"j":20},{"s":"PTAA","v":1.16,"j":22.9},
{"s":"MeO-2PACz","v":-0.04,"j":1.5e-5},{"s":"MeO-2PACz","v":-0.02,"j":1.12e-5},{"s":"MeO-2PACz","v":0,"j":8.9e-6},{"s":"MeO-2PACz","v":0.02,"j":5.6e-6},{"s":"MeO-2PACz","v":0.04,"j":2.8e-6},{"s":"MeO-2PACz","v":0.06,"j":7.1e-7},{"s":"MeO-2PACz","v":0.08,"j":3.2e-6},{"s":"MeO-2PACz","v":0.1,"j":8.9e-6},{"s":"MeO-2PACz","v":0.12,"j":1.4e-5},{"s":"MeO-2PACz","v":0.14,"j":1.9e-5},{"s":"MeO-2PACz","v":0.16,"j":2.3e-5},{"s":"MeO-2PACz","v":0.18,"j":2.7e-5},{"s":"MeO-2PACz","v":0.2,"j":3.0e-5},{"s":"MeO-2PACz","v":0.22,"j":3.4e-5},{"s":"MeO-2PACz","v":0.24,"j":3.7e-5},{"s":"MeO-2PACz","v":0.26,"j":4.1e-5},{"s":"MeO-2PACz","v":0.28,"j":4.5e-5},{"s":"MeO-2PACz","v":0.3,"j":4.9e-5},{"s":"MeO-2PACz","v":0.32,"j":5.4e-5},{"s":"MeO-2PACz","v":0.34,"j":5.9e-5},{"s":"MeO-2PACz","v":0.36,"j":6.5e-5},{"s":"MeO-2PACz","v":0.38,"j":7.1e-5},{"s":"MeO-2PACz","v":0.4,"j":7.9e-5},{"s":"MeO-2PACz","v":0.42,"j":8.7e-5},{"s":"MeO-2PACz","v":0.44,"j":9.8e-5},{"s":"MeO-2PACz","v":0.46,"j":1.1e-4},{"s":"MeO-2PACz","v":0.48,"j":1.23e-4},{"s":"MeO-2PACz","v":0.5,"j":1.41e-4},{"s":"MeO-2PACz","v":0.52,"j":1.62e-4},{"s":"MeO-2PACz","v":0.54,"j":1.86e-4},{"s":"MeO-2PACz","v":0.56,"j":2.1e-4},{"s":"MeO-2PACz","v":0.58,"j":2.5e-4},{"s":"MeO-2PACz","v":0.6,"j":3.0e-4},{"s":"MeO-2PACz","v":0.62,"j":3.5e-4},{"s":"MeO-2PACz","v":0.64,"j":4.4e-4},{"s":"MeO-2PACz","v":0.66,"j":5.5e-4},{"s":"MeO-2PACz","v":0.68,"j":7.2e-4},{"s":"MeO-2PACz","v":0.7,"j":1.0e-3},{"s":"MeO-2PACz","v":0.72,"j":1.45e-3},{"s":"MeO-2PACz","v":0.74,"j":2.2e-3},{"s":"MeO-2PACz","v":0.76,"j":3.5e-3},{"s":"MeO-2PACz","v":0.78,"j":5.8e-3},{"s":"MeO-2PACz","v":0.8,"j":1.0e-2},{"s":"MeO-2PACz","v":0.82,"j":2.0e-2},{"s":"MeO-2PACz","v":0.84,"j":4.2e-2},{"s":"MeO-2PACz","v":0.86,"j":8.9e-2},{"s":"MeO-2PACz","v":0.88,"j":0.19},{"s":"MeO-2PACz","v":0.9,"j":0.37},{"s":"MeO-2PACz","v":0.92,"j":0.69},{"s":"MeO-2PACz","v":0.94,"j":1.2},{"s":"MeO-2PACz","v":0.96,"j":2.0},{"s":"MeO-2PACz","v":0.98,"j":3.2},{"s":"MeO-2PACz","v":1.0,"j":4.8},{"s":"MeO-2PACz","v":1.02,"j":6.8},{"s":"MeO-2PACz","v":1.04,"j":8.9},{"s":"MeO-2PACz","v":1.06,"j":11.2},{"s":"MeO-2PACz","v":1.08,"j":13.5},{"s":"MeO-2PACz","v":1.1,"j":15.8},{"s":"MeO-2PACz","v":1.12,"j":18.2},{"s":"MeO-2PACz","v":1.14,"j":20.4},{"s":"MeO-2PACz","v":1.16,"j":22.9},{"s":"MeO-2PACz","v":1.18,"j":25.1},
{"s":"2PACz","v":0,"j":3.2e-6},{"s":"2PACz","v":0.02,"j":2.1e-6},{"s":"2PACz","v":0.04,"j":1.6e-6},{"s":"2PACz","v":0.06,"j":4.2e-7},{"s":"2PACz","v":0.08,"j":8.3e-7},{"s":"2PACz","v":0.1,"j":1.05e-6},{"s":"2PACz","v":0.12,"j":1.6e-6},{"s":"2PACz","v":0.14,"j":2.5e-6},{"s":"2PACz","v":0.16,"j":3.5e-6},{"s":"2PACz","v":0.18,"j":4.0e-6},{"s":"2PACz","v":0.2,"j":4.4e-6},{"s":"2PACz","v":0.22,"j":4.9e-6},{"s":"2PACz","v":0.24,"j":5.5e-6},{"s":"2PACz","v":0.26,"j":6.2e-6},{"s":"2PACz","v":0.28,"j":6.9e-6},{"s":"2PACz","v":0.3,"j":7.8e-6},{"s":"2PACz","v":0.32,"j":8.7e-6},{"s":"2PACz","v":0.34,"j":1.0e-5},{"s":"2PACz","v":0.36,"j":1.12e-5},{"s":"2PACz","v":0.38,"j":1.29e-5},{"s":"2PACz","v":0.4,"j":1.48e-5},{"s":"2PACz","v":0.42,"j":1.7e-5},{"s":"2PACz","v":0.44,"j":1.95e-5},{"s":"2PACz","v":0.46,"j":2.2e-5},{"s":"2PACz","v":0.48,"j":2.6e-5},{"s":"2PACz","v":0.5,"j":3.0e-5},{"s":"2PACz","v":0.52,"j":3.5e-5},{"s":"2PACz","v":0.54,"j":4.2e-5},{"s":"2PACz","v":0.56,"j":5.0e-5},{"s":"2PACz","v":0.58,"j":6.2e-5},{"s":"2PACz","v":0.6,"j":7.8e-5},{"s":"2PACz","v":0.62,"j":9.2e-5},{"s":"2PACz","v":0.64,"j":1.1e-4},{"s":"2PACz","v":0.66,"j":1.35e-4},{"s":"2PACz","v":0.68,"j":1.78e-4},{"s":"2PACz","v":0.7,"j":2.3e-4},{"s":"2PACz","v":0.72,"j":3.2e-4},{"s":"2PACz","v":0.74,"j":4.5e-4},{"s":"2PACz","v":0.76,"j":6.6e-4},{"s":"2PACz","v":0.78,"j":1.0e-3},{"s":"2PACz","v":0.8,"j":1.55e-3},{"s":"2PACz","v":0.82,"j":2.7e-3},{"s":"2PACz","v":0.84,"j":4.7e-3},{"s":"2PACz","v":0.86,"j":8.3e-3},{"s":"2PACz","v":0.88,"j":1.48e-2},{"s":"2PACz","v":0.9,"j":2.6e-2},{"s":"2PACz","v":0.92,"j":4.8e-2},{"s":"2PACz","v":0.94,"j":9.1e-2},{"s":"2PACz","v":0.96,"j":0.16},{"s":"2PACz","v":0.98,"j":0.27},{"s":"2PACz","v":1.0,"j":0.44},{"s":"2PACz","v":1.02,"j":0.72},{"s":"2PACz","v":1.04,"j":1.2},{"s":"2PACz","v":1.06,"j":1.8},{"s":"2PACz","v":1.08,"j":2.7},{"s":"2PACz","v":1.1,"j":3.9},{"s":"2PACz","v":1.12,"j":5.4},{"s":"2PACz","v":1.14,"j":7.2},{"s":"2PACz","v":1.16,"j":9.3},{"s":"2PACz","v":1.18,"j":11.5},{"s":"2PACz","v":1.2,"j":13.8}
]
},
"concat": [
{
  "width": 282, "height": 206,
  "title": {"text": "a", "dx": -44.5, "dy": 17},
  "layer": [
    {"data": {"name": "jv"}, "mark": {"type": "line", "strokeWidth": 2},
     "encoding": {
       "x": {"field": "v", "type": "quantitative", "scale": {"domain": [0, 1.2], "nice": false}, "axis": {"title": "Bias voltage (V)", "values": [0, 0.2, 0.4, 0.6, 0.8, 1.0, 1.2], "format": ".1f"}},
       "y": {"field": "j", "type": "quantitative", "scale": {"domain": [0, 22.9], "nice": false}, "axis": {"title": "Current density (mA/cm²)", "values": [0, 5, 10, 15, 20], "titlePadding": 12}},
       "color": {"field": "s", "type": "nominal", "scale": {"domain": ["V1036", "PTAA", "MeO-2PACz", "2PACz"], "range": ["#f7a80d", "#000000", "#f47b5c", "#36c8a8"]},
         "legend": {"title": null, "orient": "none", "legendX": -10, "legendY": -22, "direction": "horizontal", "symbolType": "stroke", "symbolStrokeWidth": 2.5, "symbolSize": 441, "labelFontSize": 13, "labelOffset": 2, "columnPadding": 2}},
       "strokeDash": {"field": "k", "type": "nominal", "scale": {"domain": ["rev", "fwd"], "range": [[1, 0], [6, 3]]}, "legend": null}
     }},
    {"layer": [
      {"data": {"values": [{}]}, "mark": {"type": "rect", "fill": "white", "stroke": "#555", "strokeWidth": 1.2},
       "encoding": {
         "x": {"datum": 0, "type": "quantitative", "scale": {"domain": [0, 180], "range": [41, 221], "nice": false}, "axis": {"orient": "bottom", "offset": -34, "title": "Time (s)", "values": [0, 30, 60, 90, 120, 150, 180], "titlePadding": 2, "labelPadding": 2}},
         "x2": {"datum": 180},
         "y": {"datum": 15, "type": "quantitative", "scale": {"domain": [15, 21], "range": [172, 45], "nice": false, "zero": false}, "axis": {"orient": "left", "offset": -41, "title": "PCE (%)", "values": [15, 16, 17, 18, 19, 20, 21], "titlePadding": 7}},
         "y2": {"datum": 21}
       }},
      {"data": {"values": [{"g": 16}, {"g": 17}, {"g": 18}, {"g": 19}, {"g": 20}]}, "mark": {"type": "rule", "color": "#a0a8a8", "strokeDash": [3, 3], "strokeWidth": 1},
       "encoding": {"x": {"datum": 0, "type": "quantitative"}, "x2": {"datum": 180}, "y": {"field": "g", "type": "quantitative"}}},
      {"data": {"name": "pt"}, "mark": {"type": "line", "strokeWidth": 2},
       "encoding": {"x": {"field": "t", "type": "quantitative"}, "y": {"field": "p", "type": "quantitative"}, "color": {"field": "s", "type": "nominal"}}}
    ]}
  ],
  "resolve": {"scale": {"x": "independent", "y": "independent"}, "axis": {"x": "independent", "y": "independent"}}
},
{
  "width": 263, "height": 206,
  "title": {"text": "b", "dx": -50, "dy": 17},
  "layer": [
    {"data": {"name": "eqe"}, "mark": {"type": "line", "strokeWidth": 1.6},
     "encoding": {
       "x": {"field": "nm", "type": "quantitative", "scale": {"domain": [300, 820], "nice": false}, "axis": {"title": "Wavelength (nm)", "values": [300, 400, 500, 600, 700, 800]}},
       "y": {"field": "e", "type": "quantitative", "scale": {"domain": [0, 96.7], "nice": false}, "axis": {"title": "EQE (%)", "values": [10, 20, 30, 40, 50, 60, 70, 80, 90], "grid": true, "titlePadding": 16}},
       "color": {"field": "s", "type": "nominal", "scale": {"domain": ["V1036", "PTAA", "MeO-2PACz", "2PACz"], "range": ["#f7a80d", "#000000", "#f47b5c", "#36c8a8"]},
         "legend": {"title": null, "orient": "none", "legendX": 15, "legendY": -22, "direction": "horizontal", "symbolType": "stroke", "symbolStrokeWidth": 2, "symbolSize": 324, "labelFontSize": 10.5, "labelOffset": 0, "columnPadding": -4}}
     }},
    {"layer": [
      {"data": {"name": "jint"}, "mark": {"type": "line", "strokeWidth": 1.6},
       "encoding": {
         "x": {"field": "nm", "type": "quantitative"},
         "y": {"field": "j", "type": "quantitative", "scale": {"domain": [0, 22.8], "nice": false}, "axis": {"orient": "right", "title": "Integrated EQE x AM1.5G (mA/cm²)", "titleFontSize": 11.5, "labelFontSize": 11.5, "tickSize": 2, "values": [0, 2, 4, 6, 8, 10, 12, 14, 16, 18, 20, 22], "grid": false, "labelPadding": 0, "titlePadding": 1}},
         "color": {"field": "s", "type": "nominal"}
       }},
      {"data": {"values": [{}]}, "mark": {"type": "rule", "color": "#7d8d8c", "strokeWidth": 1.5},
       "encoding": {"x": {"datum": 588, "type": "quantitative"}, "x2": {"datum": 628}, "y": {"datum": 11.1, "type": "quantitative"}}},
      {"data": {"values": [{}]}, "mark": {"type": "point", "shape": "triangle-right", "filled": true, "color": "#7d8d8c", "size": 35, "opacity": 1},
       "encoding": {"x": {"datum": 631, "type": "quantitative"}, "y": {"datum": 11.1, "type": "quantitative"}}}
    ]}
  ],
  "resolve": {"scale": {"y": "independent"}, "axis": {"y": "independent"}}
},
{
  "width": 284, "height": 208,
  "title": {"text": "c", "dx": -44, "dy": 16},
  "layer": [
    {"data": {"name": "pce"},
     "mark": {"type": "boxplot", "extent": 1.5, "size": 55, "outliers": false, "box": {"fillOpacity": 0, "strokeWidth": 1.6}, "median": {"strokeWidth": 1.4}, "rule": {"strokeWidth": 1.6}, "ticks": {"size": 33, "strokeWidth": 1.4}},
     "encoding": {
       "x": {"field": "g", "type": "nominal", "scale": {"domain": ["V1036", "PTAA", "MeO-2PACz", "2PACz"], "paddingInner": 0, "paddingOuter": 0}, "axis": {"title": null, "labelAngle": 0, "labelPadding": 4}},
       "y": {"field": "p", "type": "quantitative", "scale": {"domain": [14, 21.27], "nice": false, "zero": false}, "axis": {"title": "PCE (%)", "values": [14, 16, 18, 20], "grid": true, "titlePadding": 17}},
       "color": {"field": "g", "type": "nominal", "scale": {"domain": ["V1036", "PTAA", "MeO-2PACz", "2PACz"], "range": ["#f7a80d", "#3d5b54", "#f47b5c", "#36c8a8"]}, "legend": null},
       "stroke": {"field": "g", "type": "nominal", "scale": {"domain": ["V1036", "PTAA", "MeO-2PACz", "2PACz"], "range": ["#f7a80d", "#3d5b54", "#f47b5c", "#36c8a8"]}, "legend": null}
     }},
    {"data": {"name": "pce"}, "mark": {"type": "point", "filled": true, "size": 14, "opacity": 0.55},
     "encoding": {
       "x": {"field": "g", "type": "nominal"},
       "xOffset": {"field": "n", "type": "quantitative", "scale": {"domain": [-24, 74], "nice": false, "zero": false}},
       "y": {"field": "p", "type": "quantitative"},
       "color": {"field": "g", "type": "nominal"}
     }},
    {"data": {"values": [{"g": "2PACz", "p": 20.45}]}, "mark": {"type": "point", "shape": "M0,-1L0.235,-0.324L0.951,-0.309L0.38,0.124L0.588,0.809L0,0.4L-0.588,0.809L-0.38,0.124L-0.951,-0.309L-0.235,-0.324Z", "filled": true, "fill": "#a3281c", "size": 130, "opacity": 1},
     "encoding": {"x": {"field": "g", "type": "nominal"}, "y": {"field": "p", "type": "quantitative"}}},
    {"data": {"values": [{"g": "2PACz", "a": 21.33, "b": 20.62}]}, "mark": {"type": "rule", "color": "#c4391f", "strokeWidth": 1, "xOffset": -34, "x2Offset": -4},
     "encoding": {"x": {"field": "g", "type": "nominal"}, "x2": {"field": "g"}, "y": {"field": "a", "type": "quantitative"}, "y2": {"field": "b"}}},
    {"data": {"values": [{"g": "2PACz", "p": 21.55, "label": "Certified value"}]}, "mark": {"type": "text", "dx": -69, "fontSize": 12, "color": "#c4391f", "baseline": "middle"},
     "encoding": {"x": {"field": "g", "type": "nominal"}, "y": {"field": "p", "type": "quantitative"}, "text": {"field": "label"}}}
  ]
},
{
  "width": 284, "height": 206,
  "title": {"text": "d", "dx": -49, "dy": 17},
  "layer": [
    {"data": {"values": [{}]}, "mark": {"type": "rule", "color": "#222", "strokeWidth": 1},
     "encoding": {"x": {"datum": 0, "type": "quantitative"}}},
    {"data": {"name": "dark"}, "mark": {"type": "line", "strokeWidth": 1.6, "clip": true, "point": {"filled": true, "size": 24}},
     "encoding": {
       "x": {"field": "v", "type": "quantitative", "scale": {"domain": [-0.06, 1.2], "nice": false, "zero": false}, "axis": {"title": "Bias voltage (V)", "values": [0, 0.2, 0.4, 0.6, 0.8, 1.0, 1.2], "format": ".1f"}},
       "y": {"field": "j", "type": "quantitative", "scale": {"type": "log", "domain": [1e-7, 25], "nice": false}, "axis": {"title": "Absolute current density (mA/cm²)", "titlePadding": 15, "values": [1e-7, 1e-6, 1e-5, 1e-4, 1e-3, 1e-2, 1e-1, 1, 10], "grid": true, "gridColor": "#b8c8cc", "gridDash": [6, 4], "labelExpr": "['10⁻⁷','10⁻⁶','10⁻⁵','10⁻⁴','10⁻³','10⁻²','10⁻¹','10⁰','10¹'][round(log(datum.value)/LN10)+7]"}},
       "color": {"field": "s", "type": "nominal", "scale": {"domain": ["V1036", "PTAA", "MeO-2PACz", "2PACz"], "range": ["#f7a80d", "#6b7f7a", "#f47b5c", "#36c8a8"]},
         "legend": {"title": null, "orient": "none", "legendX": 6, "legendY": -20, "direction": "horizontal", "symbolType": "M-1,0H1M-0.12,-0.12H0.12V0.12H-0.12Z", "symbolStrokeWidth": 2.6, "symbolSize": 441, "labelFontSize": 12, "labelOffset": 0, "columnPadding": -3}}
     }},
    {"data": {"values": [{"t": "In the dark"}]}, "mark": {"type": "text", "align": "left", "baseline": "middle", "fontSize": 12.5, "color": "#111"},
     "encoding": {"x": {"datum": 0.033, "type": "quantitative"}, "y": {"datum": 2.2, "type": "quantitative"}, "text": {"field": "t"}}}
  ]
}
]
}
